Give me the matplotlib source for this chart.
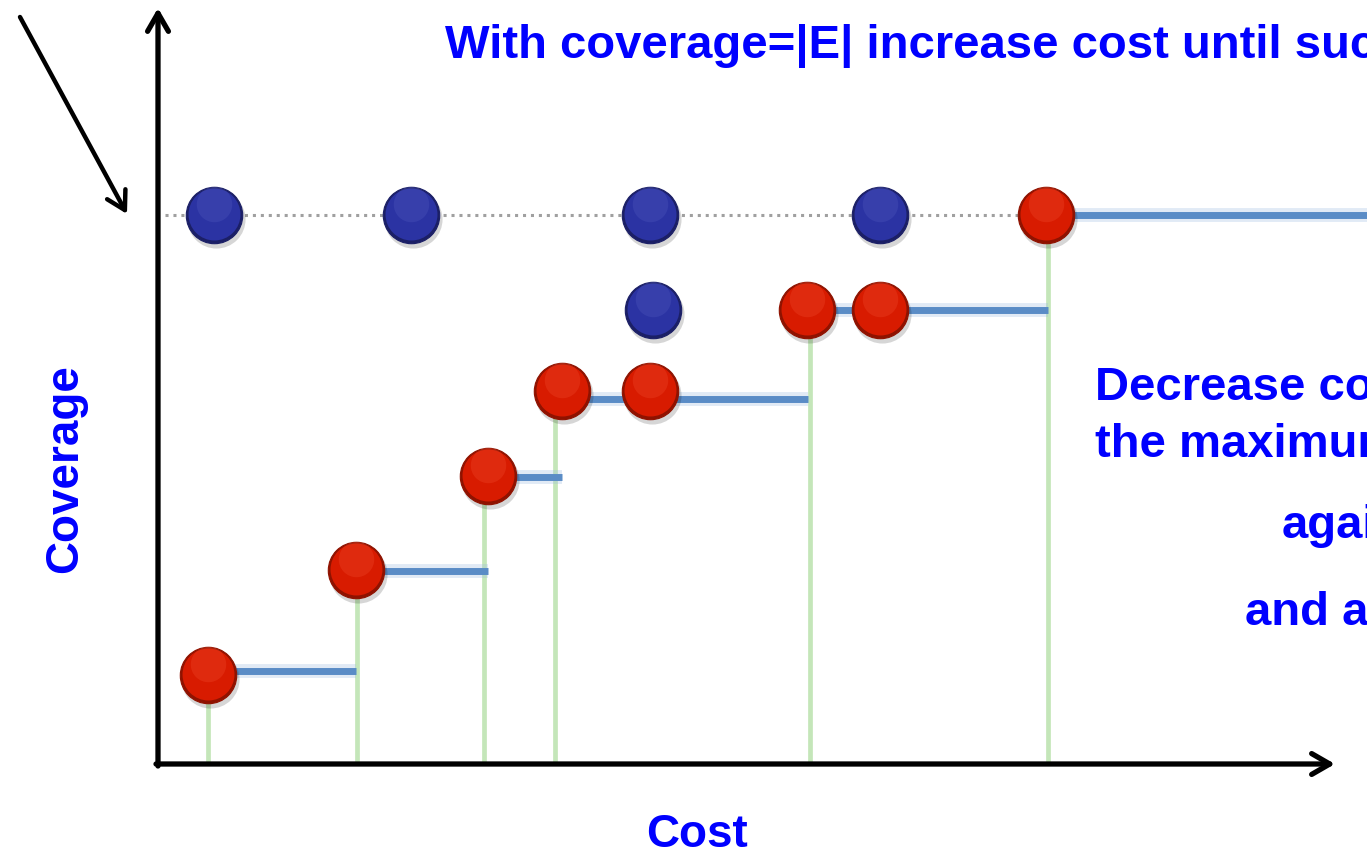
import matplotlib
matplotlib.use("Agg")
import matplotlib.pyplot as plt
from matplotlib.transforms import offset_copy

plt.rcParams['font.family'] = ['Liberation Sans', 'DejaVu Sans']

# ---- data (cost, coverage) in arbitrary units ----
red_cost = [5.0, 19.8, 33.0, 40.4, 49.2, 64.9, 72.2, 88.8]
red_cov = [8.9, 19.4, 28.8, 37.3, 37.3, 45.4, 45.4, 54.9]

blue_cost = [5.6, 25.3, 49.2, 72.2, 49.5]
blue_cov = [54.9, 54.9, 54.9, 54.9, 45.4]

# horizontal step segments (coverage level, cost start, cost end)
step_cov = [9.3, 19.3, 28.7, 36.5, 45.4, 54.9]
step_start = [5.0, 19.8, 33.0, 40.4, 65.0, 88.8]
step_end = [19.8, 33.0, 40.4, 65.0, 89.0, 125.0]

# vertical green lines (cost, top coverage)
vert_cost = [5.0, 19.9, 32.6, 39.7, 65.2, 89.0]
vert_top = [8.9, 19.4, 28.8, 36.5, 45.4, 54.9]

# dotted max-coverage line
dot_cov = 54.9
dot_start, dot_end = 0.7, 86.0

title_text = "With coverage=|E| increase cost until success"
right_lines = ["Decrease coverage", "the maximum", "again", "and again"]
xlabel_text = "Cost"
ylabel_text = "Coverage"

W, H = 1367, 854
fig = plt.figure(figsize=(W / 100, H / 100), dpi=100)
ax = fig.add_axes([0, 0, 1, 1])
ax.set_xlim(-15.8, 120.9)
ax.set_ylim(-8.9, 76.5)
ax.axis('off')


def fx(px):
    return px / W


def fy(py):
    return 1 - py / H


# green verticals
for c, t in zip(vert_cost, vert_top):
    ax.plot([c, c], [0, t], color='#c4e6b9', lw=3.4, solid_capstyle='butt', zorder=1)

# blue step lines with glow
for cv, s, e in zip(step_cov, step_start, step_end):
    ax.plot([s, e], [cv, cv], color='#9dbbe0', lw=10, alpha=0.3, solid_capstyle='butt', zorder=2)
    ax.plot([s, e], [cv, cv], color='#5a8cc6', lw=5, solid_capstyle='butt', zorder=3)

# dotted line
ax.plot([dot_start, dot_end], [dot_cov, dot_cov], color='#a0a0a0', lw=2.2,
        linestyle=(0, (1, 1.6)), zorder=2)

# axes arrows
arrow_kw = dict(arrowstyle='->,head_length=1.3,head_width=0.75', lw=3.8, color='black',
                shrinkA=0, shrinkB=0)
ax.annotate('', xy=(0, 75.6), xytext=(0, -0.2), arrowprops=arrow_kw, zorder=4)
ax.annotate('', xy=(117.7, 0), xytext=(-0.2, 0), arrowprops=arrow_kw, zorder=4)
# pointer arrow
ax.annotate('', xy=(-3.1, 55.0), xytext=(-13.8, 74.7),
            arrowprops=dict(arrowstyle='->,head_length=1.3,head_width=0.75', lw=3.2,
                            color='black', shrinkA=0, shrinkB=0), zorder=4)


def glossy(xs, ys, dark, main, light, z):
    sh = offset_copy(ax.transData, fig=fig, x=2, y=-4, units='dots')
    ax.scatter(xs, ys, s=1750, color='black', alpha=0.16, linewidths=0, transform=sh, zorder=z)
    ax.scatter(xs, ys, s=1650, color=dark, edgecolors=dark, linewidths=0.8, zorder=z + 0.1)
    up = offset_copy(ax.transData, fig=fig, x=0, y=1.5, units='dots')
    ax.scatter(xs, ys, s=1400, color=main, linewidths=0, transform=up, zorder=z + 0.2)
    hi = offset_copy(ax.transData, fig=fig, x=0, y=11, units='dots')
    ax.scatter(xs, ys, s=650, color=light, alpha=0.2, linewidths=0, transform=hi,
               marker='o', zorder=z + 0.3)


glossy(blue_cost, blue_cov, '#1b1f66', '#2b33a3', '#6a74d0', 5)
glossy(red_cost, red_cov, '#8f1200', '#d81b00', '#ff6a4a', 6)

blue = '#0000ff'
fig.text(fx(445), fy(58), title_text, color=blue, fontsize=34, fontweight='bold',
         ha='left', va='baseline')
fig.text(fx(1095), fy(400), right_lines[0], color=blue, fontsize=34, fontweight='bold',
         ha='left', va='baseline')
fig.text(fx(1095), fy(457), right_lines[1], color=blue, fontsize=34, fontweight='bold',
         ha='left', va='baseline')
fig.text(fx(1282), fy(538), right_lines[2], color=blue, fontsize=34, fontweight='bold',
         ha='left', va='baseline')
fig.text(fx(1245), fy(625), right_lines[3], color=blue, fontsize=34, fontweight='bold',
         ha='left', va='baseline')
fig.text(fx(697), fy(847), xlabel_text, color=blue, fontsize=33, fontweight='bold',
         ha='center', va='baseline')
fig.text(fx(77), fy(469), ylabel_text, color=blue, fontsize=33, fontweight='bold',
         ha='center', va='baseline', rotation=90, rotation_mode='anchor')

fig.savefig('out.png', dpi=100)
